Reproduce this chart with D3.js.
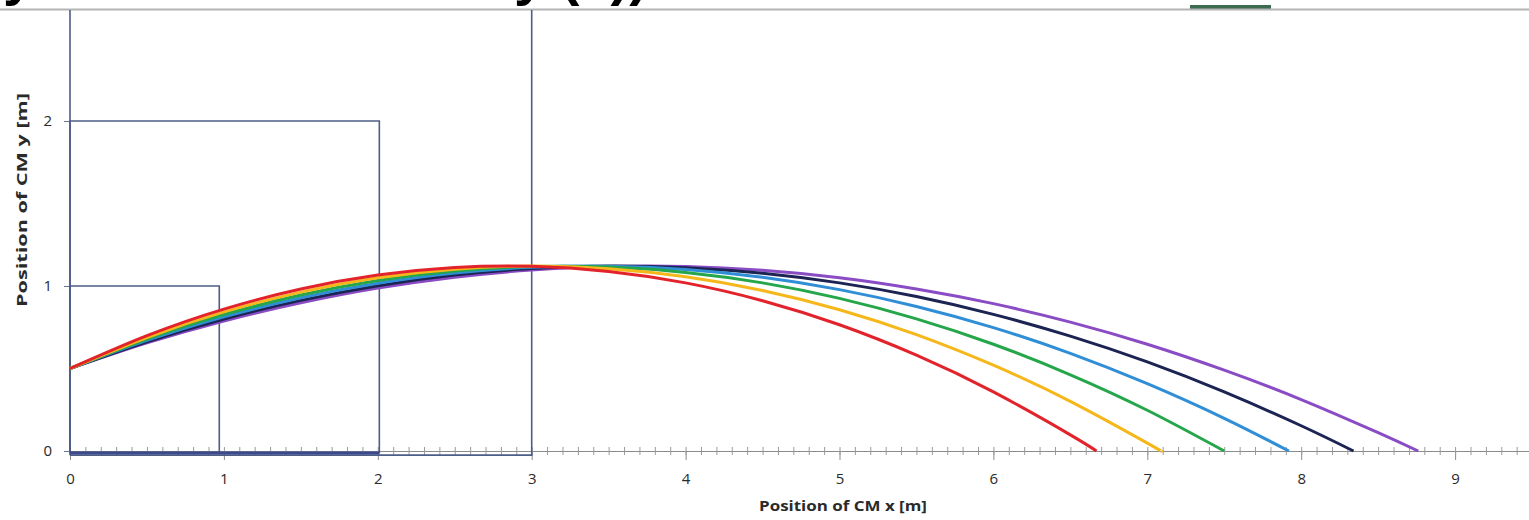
<!DOCTYPE html>
<meta charset="utf-8">
<style>

body {
  margin: 0;
  background: #fff;
  font: 13px "Open Sans", sans-serif;
}

.traj {
  fill: none;
  stroke-width: 3px;
  stroke-linejoin: round;
}

.box {
  fill: none;
  stroke: #4d5d86;
  stroke-width: 1.6px;
}

.tick text {
  fill: #2a2a2a;
  font-family: "Open Sans", sans-serif;
  font-size: 15px;
}

</style>
<body>
<script src="https://d3js.org/d3.v7.js"></script>
<script>

const width = 1529;

const height = 520;

// x positions (m) where the curves were read
const xGrid = [0, 0.5, 1, 1.5, 2, 2.5, 3, 3.5, 4, 4.5, 5, 5.5, 6, 6.5, 7, 7.5, 8, 8.5];

const yRed    = [0.5, 0.699, 0.860, 0.982, 1.066, 1.112, 1.119, 1.088, 1.019, 0.911, 0.765, 0.581, 0.358, 0.098];
const yYellow = [0.5, 0.688, 0.843, 0.963, 1.050, 1.102, 1.121, 1.105, 1.056, 0.973, 0.856, 0.705, 0.520, 0.301, 0.048];
const yGreen  = [0.5, 0.679, 0.827, 0.945, 1.033, 1.091, 1.118, 1.115, 1.082, 1.019, 0.925, 0.801, 0.647, 0.462, 0.247];
const yBlue   = [0.5, 0.670, 0.813, 0.929, 1.017, 1.079, 1.113, 1.120, 1.100, 1.053, 0.978, 0.876, 0.748, 0.592, 0.408, 0.198];
const yNavy   = [0.5, 0.662, 0.800, 0.913, 1.002, 1.066, 1.106, 1.121, 1.111, 1.077, 1.019, 0.936, 0.828, 0.696, 0.540, 0.358, 0.153];
const yPurple = [0.5, 0.655, 0.788, 0.898, 0.987, 1.053, 1.097, 1.118, 1.118, 1.095, 1.050, 0.982, 0.893, 0.781, 0.647, 0.490, 0.312, 0.111];

// where each curve reaches the ground
const landingX = [6.67, 7.09, 7.50, 7.92, 8.34, 8.76];

const seriesY = [yPurple, yNavy, yBlue, yGreen, yYellow, yRed];
const seriesLanding = [landingX[5], landingX[4], landingX[3], landingX[2], landingX[1], landingX[0]];
const seriesColors = ["#8a4cc4", "#1b2452", "#2f8ed6", "#25a64a", "#f6b71a", "#e3232b"];

// the three square outlines
const box1 = [[0, -0.01], [0, 1], [0.97, 1], [0.97, -0.01], [0, -0.01]];
const box2 = [[0, -0.01], [0, 2], [2.01, 2], [2.01, -0.01], [0, -0.01]];
const box3 = [[0, -0.025], [0, 2.8], [3, 2.8], [3, -0.025], [0, -0.025]];
const floor = [[0, -0.012], [2.01, -0.012]];

const xTicks = [0, 1, 2, 3, 4, 5, 6, 7, 8, 9];
const xMinor = d3.range(0, 100).map(d => d / 10);
const yTicks = [0, 1, 2];

const xScale = d3.scaleLinear()
    .domain([0, 10])
    .range([70, 1609]);

const yScale = d3.scaleLinear()
    .domain([0, 2])
    .range([451, 121]);

const line = d3.line()
    .x(d => xScale(d[0]))
    .y(d => yScale(d[1]));

const curve = d3.line()
    .x(d => xScale(d[0]))
    .y(d => yScale(d[1]))
    .curve(d3.curveNatural);

const svg = d3.select("body").append("svg")
    .attr("width", width)
    .attr("height", height);

svg.append("defs").append("clipPath")
    .attr("id", "plot")
  .append("rect")
    .attr("x", 0)
    .attr("y", 10)
    .attr("width", width)
    .attr("height", height - 10);

// slide title cut off at the top
svg.append("text")
    .attr("x", 3)
    .attr("y", -6)
    .style("font", "bold 56px 'Liberation Sans', sans-serif")
    .text("y");

svg.append("text")
    .attr("x", 514)
    .attr("y", -6)
    .style("font", "bold 56px 'Liberation Sans', sans-serif")
    .text("y (x))");

svg.append("line")
    .attr("x1", 1190)
    .attr("x2", 1271)
    .attr("y1", 7)
    .attr("y2", 7)
    .attr("stroke", "#3d6b50")
    .attr("stroke-width", 4);

svg.append("line")
    .attr("x1", 0)
    .attr("x2", width)
    .attr("y1", 9.5)
    .attr("y2", 9.5)
    .attr("stroke", "#b4b4b4")
    .attr("stroke-width", 2);

// axes
const xAxis = svg.append("g")
    .attr("transform", `translate(0, ${yScale(0)})`)
    .call(d3.axisBottom(xScale)
      .tickValues(xTicks)
      .tickSize(9)
      .tickPadding(13)
      .tickFormat(d3.format("d")));

xAxis.select(".domain").attr("stroke", "#8c8c8c");
xAxis.selectAll(".tick line").attr("stroke", "#8c8c8c");

svg.append("g")
    .attr("transform", `translate(0, ${yScale(0) - 4})`)
    .call(d3.axisBottom(xScale)
      .tickValues(xMinor)
      .tickSize(8)
      .tickFormat(""))
    .call(g => g.select(".domain").remove())
    .selectAll(".tick line")
      .attr("stroke", "#9a9a9a");

const yAxis = svg.append("g")
    .attr("transform", `translate(${xScale(0)}, 0)`)
    .call(d3.axisLeft(yScale)
      .tickValues(yTicks)
      .tickSize(6)
      .tickPadding(12)
      .tickFormat(d3.format("d")));

yAxis.select(".domain").remove();
yAxis.selectAll(".tick line").attr("stroke", "#6b7895");

svg.append("text")
    .attr("x", 843)
    .attr("y", 511)
    .attr("text-anchor", "middle")
    .attr("textLength", 168)
    .attr("lengthAdjust", "spacingAndGlyphs")
    .attr("fill", "#2a2a2a")
    .style("font", "bold 15px 'Open Sans', sans-serif")
    .text("Position of CM x [m]");

svg.append("text")
    .attr("transform", "translate(27, 200) rotate(-90)")
    .attr("text-anchor", "middle")
    .attr("textLength", 214)
    .attr("lengthAdjust", "spacingAndGlyphs")
    .attr("fill", "#2a2a2a")
    .style("font", "bold 15px 'Open Sans', sans-serif")
    .text("Position of CM y [m]");

const plot = svg.append("g")
    .attr("clip-path", "url(#plot)");

plot.selectAll(".box")
    .data([box1, box2, box3])
  .enter().append("path")
    .attr("class", "box")
    .attr("d", d => line(d));

plot.append("path")
    .attr("d", line(floor))
    .attr("fill", "none")
    .attr("stroke", "#3c4a8c")
    .attr("stroke-width", 3);

const trajectories = seriesY.map((ys, i) =>
    ys.map((y, j) => [xGrid[j], y]).concat([[seriesLanding[i], 0]]));

plot.selectAll(".traj")
    .data(trajectories)
  .enter().append("path")
    .attr("class", "traj")
    .attr("d", d => curve(d))
    .style("stroke", (d, i) => seriesColors[i]);

</script>
